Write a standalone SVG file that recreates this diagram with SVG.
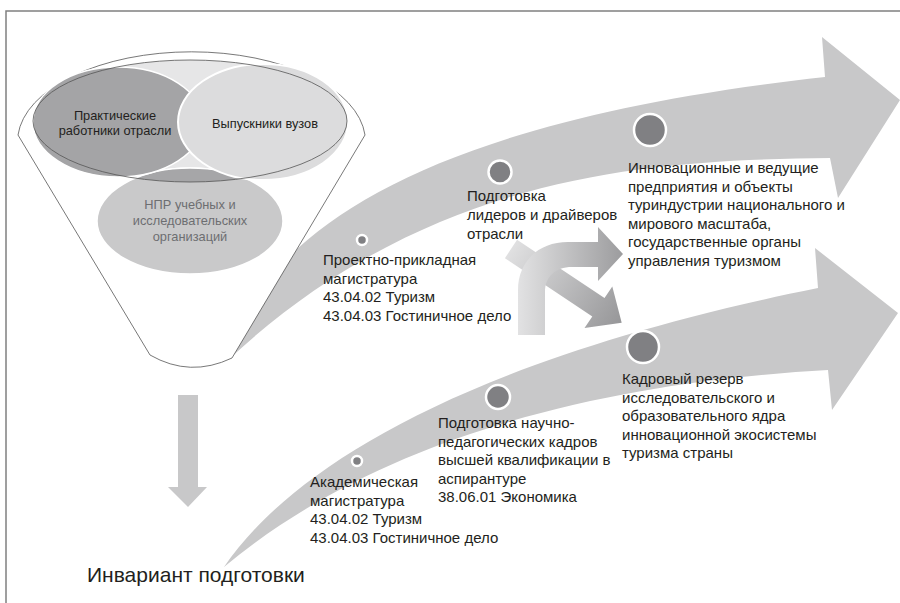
<svg xmlns="http://www.w3.org/2000/svg" width="900" height="603" viewBox="0 0 900 603">
<defs>
<style>
.t{font-family:"Liberation Sans",Arial,sans-serif;font-size:15px;fill:#231f20}
.f{font-family:"Liberation Sans",Arial,sans-serif;font-size:12.8px;fill:#231f20;text-anchor:middle}
.band{fill:#c8c8c9}
.dot{fill:#808083;stroke:#fff;stroke-width:2.5}
</style>
<linearGradient id="gCurve" x1="518" y1="0" x2="623" y2="0" gradientUnits="userSpaceOnUse">
<stop offset="0" stop-color="#e2e2e3"/><stop offset="1" stop-color="#9c9c9e"/>
</linearGradient>
<linearGradient id="gDiag" x1="505" y1="245" x2="620" y2="320" gradientUnits="userSpaceOnUse">
<stop offset="0" stop-color="#e4e4e5"/><stop offset="1" stop-color="#98989a"/>
</linearGradient>
<clipPath id="innerClip"><ellipse cx="190" cy="121" rx="157" ry="61"/></clipPath>
</defs>
<rect width="900" height="603" fill="#fff"/>
<path d="M6,603 L6,11 L900,11" fill="none" stroke="#808080" stroke-width="1.5"/>

<g id="connectors">
<path id="bandUpper" class="band" d="M228,360 C260,230 430,120 825,77 L822,37 L900,100 L838,198 L830,158 C650,160 430,172 228,360 Z"/>
<path id="bandLower" class="band" d="M224,567 C290,470 460,360 818,288 L815,248 L898,313 L832,410 L828,370 C650,380 400,420 224,567 Z"/>
<path id="downArrow" fill="#c8c8c9" d="M178,395 L198,395 L198,487 L207,487 L188,507 L168,487 L178,487 Z"/>
</g>

<g id="funnel">
<path d="M18,135 A174,90 0 0 1 365,135 L232,358 Q190,378 150,355 Z" fill="#fff" stroke="#555" stroke-width="0.8"/>
<ellipse cx="190" cy="121" rx="157" ry="61" fill="#e6e6e7"/>
<ellipse cx="190" cy="221" rx="93" ry="53" fill="#c9c9ca" stroke="#fff" stroke-width="1.5"/>
<ellipse cx="190" cy="221" rx="93" ry="53" fill="#a6a6a8" clip-path="url(#innerClip)" stroke="#fff" stroke-width="1.5"/>
<ellipse cx="118" cy="122" rx="85" ry="55" fill="#a4a4a6" stroke="#fff" stroke-width="1.5"/>
<ellipse cx="263" cy="122" rx="85" ry="58" fill="#dcdcdd" stroke="#fff" stroke-width="2"/>
<ellipse cx="190" cy="121" rx="157" ry="61" fill="none" stroke="#555" stroke-width="0.8"/>
</g>

<g id="node-practitioners">
<text class="f" x="115" y="120">Практические</text>
<text class="f" x="115" y="135">работники отрасли</text>
</g>
<g id="node-graduates">
<text class="f" x="265" y="128">Выпускники вузов</text>
</g>
<g id="node-npr">
<text class="f" x="190" y="209" style="fill:#6d6e71">НПР учебных и</text>
<text class="f" x="190" y="225" style="fill:#6d6e71">исследовательских</text>
<text class="f" x="190" y="241" style="fill:#6d6e71">организаций</text>
</g>

<g id="dots">
<circle class="dot" cx="362" cy="240" r="5"/>
<circle class="dot" cx="500" cy="172" r="11.5"/>
<circle class="dot" cx="650" cy="130" r="16"/>
<circle class="dot" cx="357" cy="461" r="5"/>
<circle class="dot" cx="498" cy="397" r="12"/>
<circle class="dot" cx="643" cy="347" r="16"/>
</g>

<g id="node-project-master">
<text class="t" x="323" y="265">Проектно-прикладная</text>
<text class="t" x="323" y="283.5">магистратура</text>
<text class="t" x="323" y="302">43.04.02 Туризм</text>
<text class="t" x="323" y="320.5">43.04.03 Гостиничное дело</text>
</g>
<g id="node-leaders">
<text class="t" x="467" y="201">Подготовка</text>
<text class="t" x="467" y="220">лидеров и драйверов</text>
<text class="t" x="467" y="238.5">отрасли</text>
</g>
<g id="node-enterprises">
<text class="t" x="628" y="173">Инновационные и ведущие</text>
<text class="t" x="628" y="191.5">предприятия и объекты</text>
<text class="t" x="628" y="210">туриндустрии национального и</text>
<text class="t" x="628" y="228.5">мирового масштаба,</text>
<text class="t" x="628" y="247">государственные органы</text>
<text class="t" x="628" y="265.5">управления туризмом</text>
</g>
<g id="node-academic-master">
<text class="t" x="310" y="487">Академическая</text>
<text class="t" x="310" y="505.5">магистратура</text>
<text class="t" x="310" y="524">43.04.02 Туризм</text>
<text class="t" x="310" y="542.5">43.04.03 Гостиничное дело</text>
</g>
<g id="node-phd">
<text class="t" x="438" y="428">Подготовка научно-</text>
<text class="t" x="438" y="446.5">педагогических кадров</text>
<text class="t" x="438" y="465">высшей квалификации в</text>
<text class="t" x="438" y="483.5">аспирантуре</text>
<text class="t" x="438" y="502">38.06.01 Экономика</text>
</g>
<g id="node-reserve">
<text class="t" x="622" y="384">Кадровый резерв</text>
<text class="t" x="622" y="402.5">исследовательского и</text>
<text class="t" x="622" y="421">образовательного ядра</text>
<text class="t" x="622" y="439.5">инновационной экосистемы</text>
<text class="t" x="622" y="458">туризма страны</text>
</g>

<g id="connectors-mid">
<path fill="url(#gDiag)" d="M517.1,239.8 L604.5,298.1 L612.3,286.5 L621.7,322.8 L584.5,328.1 L592.3,316.5 L504.9,258.2 Z"/>
<path fill="url(#gCurve)" d="M518,335 L518,290 C518,262 538,242 568,242 L598,242 L598,227 L623,254 L598,281 L598,267 L572,267 C555,267 545,277 545,292 L545,335 Z"/>
</g>

<g id="title">
<text x="87" y="582" style="font-family:'Liberation Sans',Arial,sans-serif;font-size:21px;fill:#231f20">Инвариант подготовки</text>
</g>
</svg>
